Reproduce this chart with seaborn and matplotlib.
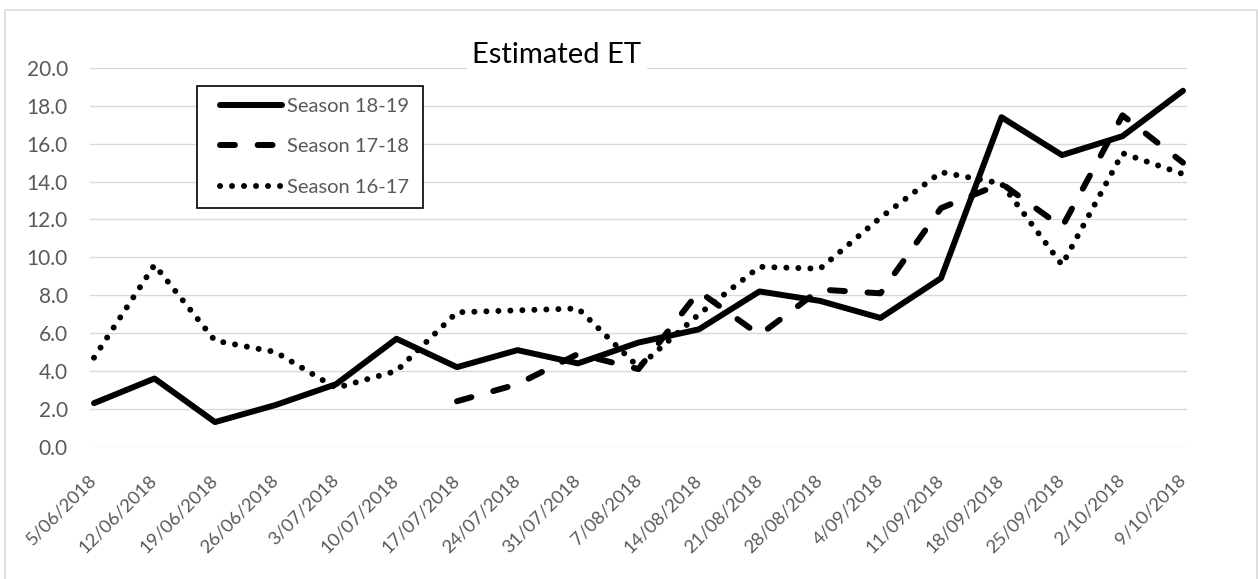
import numpy as np
import pandas as pd
import matplotlib
matplotlib.use("Agg")
import matplotlib.pyplot as plt
from matplotlib.patches import Rectangle
from matplotlib.lines import Line2D
from matplotlib.legend_handler import HandlerLine2D
import seaborn as sns

# data
dates = ["5/06/2018", "12/06/2018", "19/06/2018", "26/06/2018", "3/07/2018",
         "10/07/2018", "17/07/2018", "24/07/2018", "31/07/2018", "7/08/2018",
         "14/08/2018", "21/08/2018", "28/08/2018", "4/09/2018", "11/09/2018",
         "18/09/2018", "25/09/2018", "2/10/2018", "9/10/2018"]
season_1819 = [2.3, 3.6, 1.3, 2.2, 3.3, 5.7, 4.2, 5.1, 4.4, 5.5,
               6.2, 8.2, 7.7, 6.8, 8.9, 17.4, 15.4, 16.4, 18.8]
season_1718 = [np.nan, np.nan, np.nan, np.nan, np.nan, np.nan, 2.4, 3.3, 4.9, 4.1,
               8.2, 5.9, 8.3, 8.1, 12.6, 13.9, 11.6, 17.5, 15.0]
season_1617 = [4.7, 9.6, 5.6, 5.0, 3.1, 4.0, 7.1, 7.2, 7.3, 4.2,
               7.0, 9.5, 9.4, 12.1, 14.5, 13.9, 9.6, 15.5, 14.4]
seasons = ["Season 18-19", "Season 17-18", "Season 16-17"]
yticks = [0, 2, 4, 6, 8, 10, 12, 14, 16, 18, 20]

df = pd.DataFrame({"Date": dates, "idx": range(len(dates)),
                   seasons[0]: season_1819, seasons[1]: season_1718, seasons[2]: season_1617})
long_df = df.melt(id_vars=["Date", "idx"], var_name="Season", value_name="ET").dropna()

sns.set_theme(style="white")
plt.rcParams["font.family"] = ["Lato", "DejaVu Sans"]

W, H = 1258, 579
fig = plt.figure(figsize=(W / 100, H / 100), dpi=100)
ax = fig.add_axes([90 / W, 1 - 446.7 / H, 1097 / W, 378.7 / H])

sns.lineplot(data=long_df, x="idx", y="ET", style="Season", style_order=seasons,
             dashes={seasons[0]: "", seasons[1]: (2.5, 3.8), seasons[2]: (0.01, 2.0)},
             color="black", linewidth=4.3, errorbar=None, legend=False, ax=ax,
             dash_capstyle="round", solid_capstyle="round", solid_joinstyle="round")

ax.set_xlim(-0.066, len(dates) - 1 + 0.066)
ax.set_ylim(0, 20)
ax.set_yticks(yticks)
ax.set_yticklabels([f"{v:.1f}" for v in yticks])
ax.set_xticks(range(len(dates)))
ax.set_xticklabels(dates, rotation=45, ha="right", va="center", rotation_mode="anchor")
ax.set_xlabel("")
ax.set_ylabel("")
ax.yaxis.grid(True, color="#d9d9d9", linewidth=1.0)
ax.xaxis.grid(False)
ax.set_axisbelow(True)
for s in ax.spines.values():
    s.set_visible(False)
ax.tick_params(axis="y", length=0, pad=16, labelsize=15, labelcolor="#595959")
ax.tick_params(axis="x", length=0, pad=22, labelsize=13.3, labelcolor="#595959")

leg = ax.legend(handles=ax.lines[:3], labels=seasons, loc="upper left",
                bbox_to_anchor=(0.0975, 0.5, 0.206, 0.4525), mode="expand",
                borderaxespad=0, frameon=True, fancybox=False, framealpha=1,
                edgecolor="black", fontsize=14.5, handlelength=3.63, handletextpad=0.25,
                labelspacing=1.15, borderpad=0.6, labelcolor="#595959",
                handler_map={Line2D: HandlerLine2D(xpad=0.55)})
leg.get_frame().set_linewidth(1.2)

fig.text(557 / W, 1 - 55 / H, "Estimated ET", ha="center", va="center", fontsize=21,
         color="black", bbox=dict(facecolor="white", edgecolor="none", pad=4))

fig.add_artist(Rectangle((5 / W, -0.02), 1252 / W, 1 - 10 / H + 0.02,
                         transform=fig.transFigure, fill=False,
                         edgecolor="#d9d9d9", linewidth=1.2))

fig.savefig("out.png", dpi=100)
